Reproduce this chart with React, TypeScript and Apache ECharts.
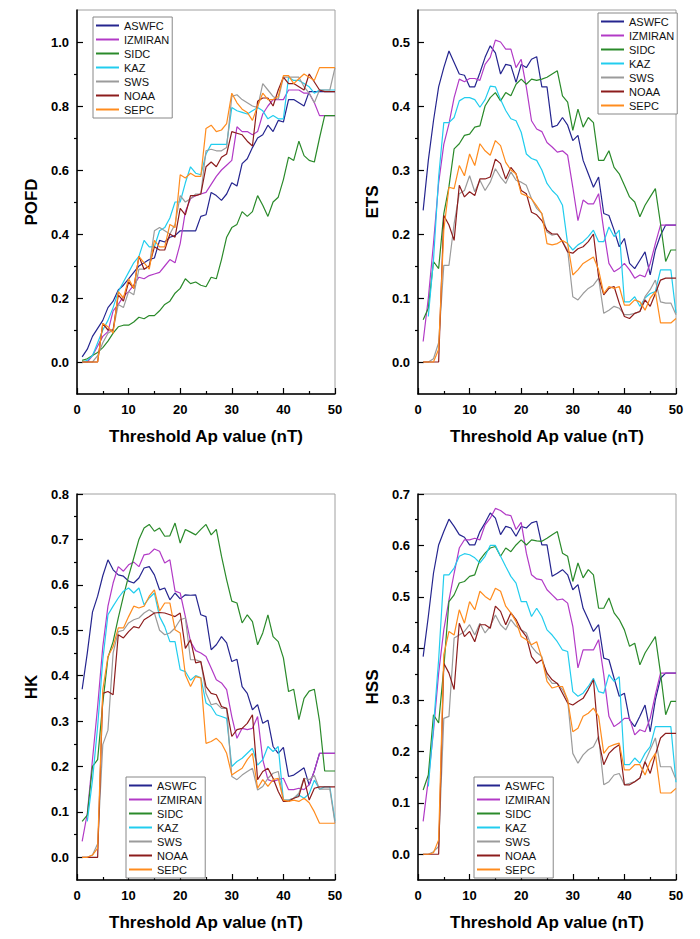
import React, { useEffect, useRef } from "react";
import * as echarts from "echarts";

const thresholds = [1,2,3,4,5,6,7,8,9,10,11,12,13,14,15,16,17,18,19,20,21,22,23,24,25,26,27,28,29,30,31,32,33,34,35,36,37,38,39,40,41,42,43,44,45,46,47,48,49,50];
const centers = ["ASWFC", "IZMIRAN", "SIDC", "KAZ", "SWS", "NOAA", "SEPC"];
const colors = ["#25258f", "#b23ac6", "#2a8a2a", "#22cdee", "#9b9b9b", "#8c1c1c", "#ff8c1e"];
const xTitle = "Threshold Ap value (nT)";

// POFD
const pofdASWFC = [0.016,0.04,0.08,0.105,0.13,0.17,0.19,0.225,0.24,0.26,0.28,0.30,0.31,0.32,0.325,0.38,0.375,0.39,0.395,0.41,0.41,0.41,0.41,0.455,0.46,0.53,0.52,0.505,0.525,0.56,0.55,0.62,0.635,0.67,0.70,0.71,0.74,0.72,0.755,0.75,0.82,0.82,0.81,0.80,0.845,0.845,0.845,0.845,0.845,0.845];
const pofdIZMIRAN = [0,0,0.02,0.05,0.08,0.095,0.16,0.18,0.205,0.22,0.24,0.265,0.26,0.27,0.275,0.28,0.30,0.32,0.31,0.37,0.47,0.51,0.52,0.525,0.53,0.555,0.58,0.60,0.615,0.63,0.735,0.72,0.72,0.71,0.72,0.775,0.80,0.82,0.82,0.82,0.85,0.85,0.85,0.84,0.84,0.81,0.77,0.77,0.77,0.77];
const pofdSIDC = [0.005,0.01,0.02,0.03,0.045,0.065,0.09,0.11,0.115,0.115,0.125,0.14,0.135,0.145,0.145,0.16,0.18,0.19,0.215,0.23,0.26,0.245,0.25,0.24,0.235,0.265,0.26,0.32,0.39,0.42,0.43,0.47,0.455,0.47,0.52,0.49,0.455,0.50,0.515,0.57,0.64,0.63,0.69,0.645,0.63,0.625,0.70,0.77,0.77,0.77];
const pofdKAZ = [0,0.005,0.02,0.06,0.10,0.13,0.17,0.22,0.25,0.28,0.31,0.33,0.38,0.36,0.36,0.41,0.42,0.45,0.50,0.50,0.56,0.61,0.59,0.585,0.65,0.68,0.68,0.68,0.68,0.795,0.785,0.78,0.775,0.785,0.795,0.785,0.76,0.77,0.76,0.76,0.89,0.88,0.88,0.87,0.86,0.84,0.85,0.85,0.85,0.85];
const pofdSWS = [0,0,0,0.02,0.06,0.09,0.10,0.18,0.17,0.22,0.21,0.29,0.29,0.30,0.41,0.42,0.41,0.40,0.43,0.52,0.50,0.51,0.525,0.525,0.66,0.665,0.66,0.66,0.67,0.83,0.835,0.82,0.81,0.80,0.795,0.87,0.85,0.83,0.82,0.89,0.89,0.89,0.89,0.86,0.84,0.81,0.85,0.85,0.85,0.92];
const pofdNOAA = [0,0,0,0,0.12,0.10,0.10,0.21,0.19,0.25,0.23,0.33,0.29,0.30,0.36,0.35,0.35,0.40,0.39,0.48,0.46,0.52,0.52,0.525,0.61,0.625,0.61,0.64,0.65,0.72,0.715,0.71,0.69,0.675,0.815,0.825,0.825,0.80,0.85,0.89,0.87,0.87,0.86,0.85,0.90,0.875,0.85,0.845,0.845,0.845];
const pofdSEPC = [0,0,0,0,0.12,0.11,0.09,0.22,0.20,0.26,0.23,0.33,0.31,0.29,0.38,0.36,0.36,0.43,0.42,0.585,0.575,0.59,0.58,0.58,0.73,0.74,0.72,0.725,0.745,0.84,0.81,0.79,0.78,0.755,0.80,0.84,0.82,0.82,0.83,0.895,0.895,0.87,0.885,0.90,0.89,0.88,0.92,0.92,0.92,0.92];

// ETS
const etsASWFC = [0.237,0.315,0.377,0.43,0.46,0.486,0.468,0.45,0.448,0.43,0.43,0.452,0.476,0.494,0.483,0.45,0.465,0.463,0.437,0.465,0.46,0.473,0.477,0.43,0.43,0.367,0.37,0.382,0.37,0.346,0.354,0.315,0.294,0.273,0.289,0.232,0.229,0.206,0.18,0.193,0.154,0.146,0.159,0.172,0.136,0.175,0.198,0.214,0.214,0.214];
const etsIZMIRAN = [0.032,0.10,0.185,0.28,0.34,0.372,0.413,0.442,0.438,0.443,0.443,0.44,0.465,0.476,0.503,0.50,0.489,0.489,0.46,0.473,0.429,0.377,0.364,0.36,0.343,0.336,0.328,0.33,0.323,0.273,0.221,0.253,0.247,0.247,0.263,0.206,0.154,0.141,0.146,0.154,0.144,0.131,0.136,0.133,0.154,0.185,0.214,0.214,0.214,0.214];
const etsSIDC = [0.066,0.084,0.157,0.146,0.232,0.274,0.333,0.341,0.354,0.356,0.367,0.369,0.40,0.413,0.421,0.408,0.421,0.416,0.434,0.442,0.434,0.442,0.44,0.442,0.445,0.45,0.455,0.416,0.406,0.362,0.395,0.367,0.382,0.374,0.315,0.315,0.33,0.304,0.294,0.276,0.258,0.25,0.227,0.245,0.258,0.271,0.216,0.157,0.175,0.175];
const etsKAZ = [null,0.071,0.159,0.289,0.374,0.374,0.382,0.408,0.413,0.413,0.41,0.398,0.41,0.431,0.43,0.41,0.393,0.38,0.377,0.359,0.325,0.318,0.315,0.30,0.279,0.268,0.26,0.245,0.185,0.175,0.183,0.188,0.196,0.206,0.188,0.188,0.211,0.196,0.206,0.094,0.094,0.102,0.087,0.10,0.107,0.11,0.144,0.144,0.144,0.076];
const etsSWS = [0,0,0.005,0.03,0.151,0.151,0.216,0.263,0.268,0.291,0.266,0.284,0.268,0.281,0.302,0.289,0.279,0.297,0.284,0.281,0.276,0.255,0.24,0.232,0.203,0.198,0.20,0.188,0.175,0.102,0.097,0.107,0.115,0.12,0.131,0.076,0.081,0.087,0.084,0.074,0.074,0.076,0.079,0.102,0.113,0.128,0.094,0.092,0.092,0.074];
const etsNOAA = [0,0,0,0,0.229,0.214,0.19,0.276,0.258,0.266,0.26,0.286,0.286,0.289,0.317,0.31,0.286,0.304,0.294,0.268,0.263,0.234,0.23,0.221,0.206,0.20,0.20,0.188,0.172,0.17,0.177,0.18,0.188,0.20,0.133,0.105,0.115,0.118,0.092,0.071,0.068,0.076,0.079,0.097,0.087,0.107,0.128,0.131,0.131,0.131];
const etsSEPC = [0,0,0,0.02,0.206,0.273,0.271,0.307,0.291,0.325,0.307,0.341,0.33,0.323,0.346,0.338,0.312,0.30,0.294,0.263,0.26,0.255,0.244,0.232,0.185,0.183,0.185,0.19,0.185,0.136,0.144,0.154,0.159,0.164,0.144,0.107,0.118,0.115,0.118,0.089,0.089,0.097,0.094,0.081,0.10,0.11,0.061,0.061,0.061,0.068];

// HK
const hkASWFC = [0.37,0.45,0.54,0.575,0.62,0.655,0.633,0.622,0.619,0.608,0.604,0.615,0.637,0.64,0.622,0.589,0.593,0.567,0.582,0.569,0.578,0.577,0.578,0.534,0.53,0.457,0.468,0.486,0.472,0.431,0.436,0.376,0.361,0.325,0.336,0.295,0.302,0.244,0.229,0.242,0.178,0.181,0.189,0.197,0.159,0.19,0.229,0.229,0.229,0.229];
const hkIZMIRAN = [0.035,0.097,0.215,0.332,0.464,0.553,0.604,0.64,0.63,0.644,0.65,0.64,0.666,0.668,0.679,0.674,0.648,0.655,0.586,0.582,0.53,0.475,0.455,0.45,0.442,0.417,0.391,0.384,0.369,0.31,0.262,0.284,0.281,0.284,0.31,0.215,0.171,0.167,0.171,0.174,0.149,0.149,0.152,0.149,0.16,0.19,0.229,0.229,0.229,0.229];
const hkSIDC = [0.079,0.093,0.20,0.215,0.34,0.44,0.475,0.527,0.575,0.619,0.659,0.70,0.725,0.733,0.718,0.725,0.707,0.708,0.736,0.692,0.722,0.716,0.71,0.722,0.733,0.71,0.722,0.663,0.611,0.564,0.56,0.516,0.534,0.519,0.468,0.494,0.534,0.486,0.475,0.439,0.365,0.37,0.303,0.35,0.366,0.37,0.30,0.19,0.19,0.19];
const hkKAZ = [null,0.079,0.17,0.288,0.435,0.534,0.553,0.571,0.586,0.593,0.582,0.593,0.556,0.571,0.582,0.53,0.508,0.475,0.475,0.413,0.409,0.39,0.40,0.395,0.34,0.332,0.314,0.31,0.306,0.20,0.211,0.218,0.229,0.24,0.203,0.215,0.244,0.233,0.244,0.126,0.126,0.13,0.137,0.13,0.14,0.17,0.15,0.155,0.155,0.08];
const hkSWS = [0,0,0.005,0.03,0.248,0.28,0.45,0.497,0.50,0.516,0.523,0.527,0.538,0.545,0.538,0.50,0.49,0.494,0.505,0.523,0.527,0.435,0.435,0.431,0.361,0.336,0.339,0.328,0.328,0.178,0.171,0.181,0.189,0.196,0.148,0.156,0.174,0.185,0.189,0.126,0.126,0.13,0.141,0.174,0.171,0.18,0.15,0.15,0.15,0.075];
const hkNOAA = [0,0,0,0,0.361,0.365,0.358,0.49,0.483,0.497,0.508,0.505,0.523,0.53,0.538,0.539,0.538,0.534,0.53,0.538,0.46,0.479,0.428,0.431,0.376,0.361,0.358,0.332,0.328,0.266,0.281,0.284,0.295,0.314,0.171,0.189,0.196,0.174,0.145,0.123,0.123,0.13,0.134,0.174,0.126,0.152,0.155,0.155,0.155,0.155];
const hkSEPC = [0,0,0.005,0.02,0.369,0.442,0.464,0.505,0.505,0.53,0.553,0.549,0.553,0.575,0.589,0.542,0.56,0.56,0.501,0.494,0.402,0.376,0.398,0.395,0.251,0.255,0.262,0.251,0.229,0.181,0.189,0.196,0.215,0.229,0.152,0.171,0.156,0.171,0.174,0.126,0.123,0.126,0.123,0.13,0.12,0.10,0.075,0.075,0.075,0.075];

// HSS
const hssASWFC = [0.384,0.462,0.546,0.601,0.627,0.651,0.637,0.621,0.616,0.601,0.601,0.627,0.644,0.663,0.653,0.621,0.637,0.634,0.618,0.637,0.634,0.644,0.647,0.601,0.601,0.54,0.546,0.553,0.543,0.514,0.524,0.478,0.456,0.433,0.446,0.381,0.378,0.342,0.307,0.313,0.261,0.248,0.268,0.29,0.238,0.30,0.342,0.352,0.352,0.352];
const hssIZMIRAN = [0.064,0.145,0.239,0.352,0.436,0.494,0.546,0.595,0.611,0.611,0.614,0.611,0.64,0.653,0.672,0.668,0.66,0.658,0.631,0.645,0.585,0.543,0.535,0.533,0.514,0.504,0.494,0.496,0.488,0.443,0.362,0.397,0.397,0.397,0.417,0.349,0.268,0.248,0.255,0.264,0.264,0.232,0.242,0.238,0.264,0.31,0.352,0.352,0.352,0.352];
const hssSIDC = [0.125,0.154,0.271,0.255,0.362,0.491,0.504,0.527,0.53,0.54,0.543,0.572,0.585,0.595,0.598,0.579,0.595,0.588,0.601,0.611,0.601,0.611,0.609,0.608,0.614,0.621,0.627,0.585,0.579,0.53,0.566,0.537,0.553,0.543,0.478,0.478,0.498,0.469,0.456,0.436,0.404,0.41,0.368,0.391,0.407,0.423,0.352,0.271,0.297,0.297];
const hssKAZ = [null,0.132,0.248,0.378,0.543,0.543,0.556,0.579,0.584,0.582,0.576,0.566,0.579,0.60,0.60,0.579,0.559,0.54,0.527,0.491,0.491,0.462,0.478,0.462,0.436,0.426,0.413,0.397,0.394,0.316,0.307,0.313,0.326,0.342,0.316,0.313,0.349,0.336,0.345,0.174,0.174,0.187,0.177,0.196,0.209,0.248,0.248,0.248,0.248,0.14];
const hssSWS = [0,0,0.005,0.015,0.264,0.268,0.42,0.426,0.433,0.446,0.426,0.449,0.43,0.443,0.465,0.446,0.436,0.456,0.443,0.436,0.43,0.404,0.392,0.384,0.345,0.332,0.332,0.32,0.30,0.196,0.177,0.193,0.203,0.209,0.229,0.135,0.141,0.154,0.157,0.135,0.138,0.141,0.148,0.18,0.203,0.226,0.17,0.17,0.17,0.145];
const hssNOAA = [0,0,0,0,0.371,0.352,0.32,0.449,0.423,0.433,0.413,0.446,0.446,0.439,0.482,0.472,0.446,0.469,0.456,0.436,0.423,0.384,0.371,0.378,0.352,0.339,0.332,0.313,0.294,0.29,0.297,0.303,0.32,0.339,0.222,0.174,0.196,0.206,0.213,0.135,0.135,0.141,0.148,0.18,0.157,0.193,0.226,0.235,0.235,0.235];
const hssSEPC = [0,0,0.003,0.028,0.388,0.433,0.426,0.475,0.449,0.491,0.475,0.511,0.501,0.494,0.517,0.511,0.482,0.469,0.452,0.423,0.417,0.407,0.413,0.381,0.336,0.323,0.326,0.326,0.30,0.238,0.245,0.268,0.274,0.284,0.268,0.196,0.209,0.213,0.216,0.164,0.164,0.174,0.174,0.154,0.18,0.196,0.119,0.119,0.119,0.128];

// tick labels
const pofdTicks = [0, 0.2, 0.4, 0.6, 0.8, 1.0];
const pofdMinor = [0.1, 0.3, 0.5, 0.7, 0.9];
const etsTicks = [0, 0.1, 0.2, 0.3, 0.4, 0.5];
const etsMinor = [0.05, 0.15, 0.25, 0.35, 0.45];
const hkTicks = [0, 0.1, 0.2, 0.3, 0.4, 0.5, 0.6, 0.7, 0.8];
const hkMinor = [0.05, 0.15, 0.25, 0.35, 0.45, 0.55, 0.65, 0.75];
const hssTicks = [0, 0.1, 0.2, 0.3, 0.4, 0.5, 0.6, 0.7];
const hssMinor = [0.05, 0.15, 0.25, 0.35, 0.45, 0.55, 0.65];

const panels = [
  { name: "POFD", series: [pofdASWFC, pofdIZMIRAN, pofdSIDC, pofdKAZ, pofdSWS, pofdNOAA, pofdSEPC], ticks: pofdTicks, minor: pofdMinor, min: -0.1, max: 1.1,
    grid: { left: 77, top: 10, width: 258, height: 384 }, legend: { left: 93, top: 17 } },
  { name: "ETS", series: [etsASWFC, etsIZMIRAN, etsSIDC, etsKAZ, etsSWS, etsNOAA, etsSEPC], ticks: etsTicks, minor: etsMinor, min: -0.05, max: 0.55,
    grid: { left: 418, top: 10, width: 258, height: 384 }, legend: { left: 598, top: 13 } },
  { name: "HK", series: [hkASWFC, hkIZMIRAN, hkSIDC, hkKAZ, hkSWS, hkNOAA, hkSEPC], ticks: hkTicks, minor: hkMinor, min: -0.05, max: 0.8,
    grid: { left: 77, top: 494, width: 258, height: 386 }, legend: { left: 126, top: 777 } },
  { name: "HSS", series: [hssASWFC, hssIZMIRAN, hssSIDC, hssKAZ, hssSWS, hssNOAA, hssSEPC], ticks: hssTicks, minor: hssMinor, min: -0.05, max: 0.7,
    grid: { left: 418, top: 494, width: 258, height: 386 }, legend: { left: 474, top: 777 } },
];

const FONT = "Arial, 'Liberation Sans', Helvetica, sans-serif";

function buildOption() {
  const grid: any[] = [];
  const xAxis: any[] = [];
  const yAxis: any[] = [];
  const legend: any[] = [];
  const series: any[] = [];
  panels.forEach((p, i) => {
    grid.push({ ...p.grid, show: true, borderColor: "#a0a0a0", borderWidth: 1, backgroundColor: "transparent" });
    xAxis.push({
      type: "value", gridIndex: i, min: 0, max: 50, interval: 10,
      name: xTitle, nameLocation: "middle", nameGap: 34,
      nameTextStyle: { fontFamily: FONT, fontWeight: "bold", fontSize: 17, color: "#000" },
      axisLine: { show: true, onZero: false, lineStyle: { color: "#000", width: 1.5 } },
      axisTick: { show: true, inside: true, length: 6, lineStyle: { color: "#000", width: 1.2 } },
      minorTick: { show: true, splitNumber: 2, length: 3, lineStyle: { color: "#000", width: 1.2 } },
      axisLabel: { fontFamily: FONT, fontWeight: "bold", fontSize: 13, color: "#000", margin: 9 },
      splitLine: { show: false },
    });
    yAxis.push({
      type: "value", gridIndex: i, min: p.min, max: p.max,
      name: p.name, nameLocation: "middle", nameGap: 37, nameRotate: 90,
      nameTextStyle: { fontFamily: FONT, fontWeight: "bold", fontSize: 17, color: "#000" },
      axisLine: { show: true, onZero: false, lineStyle: { color: "#000", width: 1.5 } },
      axisTick: { show: true, inside: true, length: 6, customValues: p.ticks, lineStyle: { color: "#000", width: 1.2 } },
      axisLabel: { fontFamily: FONT, fontWeight: "bold", fontSize: 13, color: "#000", margin: 8, customValues: p.ticks, formatter: (v: number) => v.toFixed(1) },
      splitLine: { show: false },
    });
    yAxis.push({
      type: "value", gridIndex: i, min: p.min, max: p.max,
      axisLine: { show: false },
      axisTick: { show: true, inside: true, length: 3, customValues: p.minor, lineStyle: { color: "#000", width: 1.2 } },
      axisLabel: { show: false },
      splitLine: { show: false },
    });
    legend.push({
      orient: "vertical", left: p.legend.left, top: p.legend.top,
      itemWidth: 23, itemHeight: 10, itemGap: 3, padding: [3, 3, 3, 2],
      borderColor: "#888", borderWidth: 1, backgroundColor: "#fff",
      itemStyle: { opacity: 0 },
      textStyle: { fontFamily: FONT, fontSize: 11, color: "#111" },
      data: centers,
    });
    p.series.forEach((vals, k) => {
      series.push({
        type: "line", name: centers[k], xAxisIndex: i, yAxisIndex: 2 * i,
        data: thresholds.map((x, j) => [x, vals[j]]),
        symbol: "none", connectNulls: false,
        lineStyle: { color: colors[k], width: 1.2 },
        itemStyle: { color: colors[k] },
        z: 2 + k,
      });
    });
  });
  return { animation: false, backgroundColor: "#fff", grid, xAxis, yAxis, legend, series };
}

export default function App() {
  const ref = useRef<HTMLDivElement>(null);
  useEffect(() => {
    if (!ref.current) return;
    const chart = echarts.init(ref.current, undefined, { renderer: "svg" });
    chart.setOption(buildOption() as any);
    return () => chart.dispose();
  }, []);
  return <div ref={ref} style={{ position: "fixed", left: 0, top: 0, width: 700, height: 939, background: "#fff" }} />;
}
